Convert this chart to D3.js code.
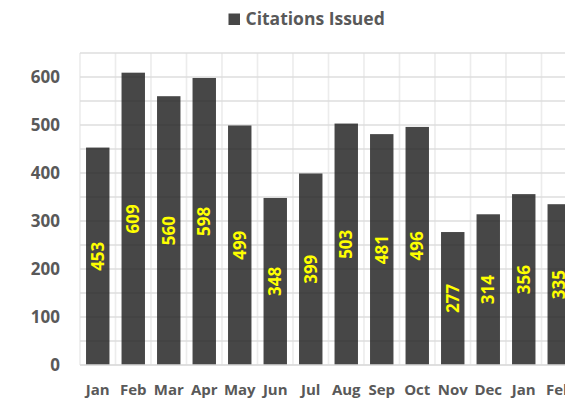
<!DOCTYPE html>
<html><head><meta charset="utf-8">
<script src="https://cdn.jsdelivr.net/npm/d3@7"></script>
<style>body{margin:0;background:#fff}svg{display:block}</style>
</head><body>
<script>
const months = ["Jan","Feb","Mar","Apr","May","Jun","Jul","Aug","Sep","Oct","Nov","Dec","Jan","Feb"];
const citations = [453,609,560,598,499,348,399,503,481,496,277,314,356,335];
const yTicks = [0,100,200,300,400,500,600];
const gridTicks = [0,50,100,150,200,250,300,350,400,450,500,550,600,650];
const seriesName = "Citations Issued";

(function(){
const W = 565, H = 409;
const pLeft = 80, pTop = 53, pBottom = 365;
const bandW = 35.5;
const pRight = pLeft + bandW * months.length;
const font = "'Open Sans', sans-serif";
const textCol = "#595959";

const svg = d3.select("body").append("svg").attr("width", W).attr("height", H)
  .style("overflow","hidden");

const x = d3.scaleBand().domain(d3.range(months.length)).range([pLeft, pRight]).paddingInner(0.34).paddingOuter(0.17);
const y = d3.scaleLinear().domain([0,650]).range([pBottom, pTop]);

// gridlines
svg.append("g").selectAll("line").data(gridTicks).join("line")
  .attr("x1", pLeft).attr("x2", pRight)
  .attr("y1", d => y(d)).attr("y2", d => y(d))
  .attr("stroke", "#ececec").attr("stroke-width", 1.6);
svg.append("g").selectAll("line").data(d3.range(months.length + 1)).join("line")
  .attr("x1", i => pLeft + i*bandW).attr("x2", i => pLeft + i*bandW)
  .attr("y1", pTop).attr("y2", pBottom)
  .attr("stroke", "#ececec").attr("stroke-width", 1.6);

// bars
svg.append("g").selectAll("rect").data(citations).join("rect")
  .attr("x", (d,i) => x(i)).attr("width", x.bandwidth())
  .attr("y", d => y(d)).attr("height", d => y(0) - y(d))
  .attr("fill", "#474747");

// faint gridlines across bars
svg.append("g").selectAll("line").data(gridTicks.filter(t => t > 0)).join("line")
  .attr("x1", pLeft).attr("x2", pRight)
  .attr("y1", d => y(d)).attr("y2", d => y(d))
  .attr("stroke", "#000").attr("stroke-opacity", 0.06).attr("stroke-width", 1.5);

// axis line
svg.append("line").attr("x1", pLeft).attr("x2", pRight).attr("y1", pBottom).attr("y2", pBottom)
  .attr("stroke", "#d9d9d9").attr("stroke-width", 1.5);

// value labels
svg.append("g").selectAll("text").data(citations).join("text")
  .attr("transform", (d,i) => `translate(${x(i) + x.bandwidth()/2},${(y(d)+y(0))/2}) rotate(-90)`)
  .attr("text-anchor", "middle").attr("dy", "0.36em")
  .attr("fill", "#ffff00").attr("font-family", font).attr("font-weight", "bold").attr("font-size", 17)
  .text(d => d);

// y axis
const yAxis = d3.axisLeft(y).tickValues(yTicks).tickSize(0).tickPadding(0);
const gy = svg.append("g").attr("transform", `translate(60,0)`).call(yAxis);
gy.select(".domain").remove();
gy.selectAll("text").attr("fill", textCol).attr("font-family", font).attr("font-weight", "bold").attr("font-size", 17);

// x axis
const xAxis = d3.axisBottom(x).tickFormat(i => months[i]).tickSize(0).tickPadding(0);
const gx = svg.append("g").attr("transform", `translate(0,384)`).call(xAxis);
gx.select(".domain").remove();
gx.selectAll("text").attr("fill", textCol).attr("font-family", font).attr("font-weight", "bold").attr("font-size", 15);

// legend/title
const lg = svg.append("g");
lg.append("text").attr("x", 245.5).attr("y", 25)
  .attr("fill", textCol).attr("font-family", font).attr("font-weight", "bold").attr("font-size", 17.5)
  .text(seriesName);
lg.append("rect").attr("x", 228.5).attr("y", 13.5).attr("width", 11.5).attr("height", 11.5).attr("fill", "#474747");
})();
</script>
</body></html>
